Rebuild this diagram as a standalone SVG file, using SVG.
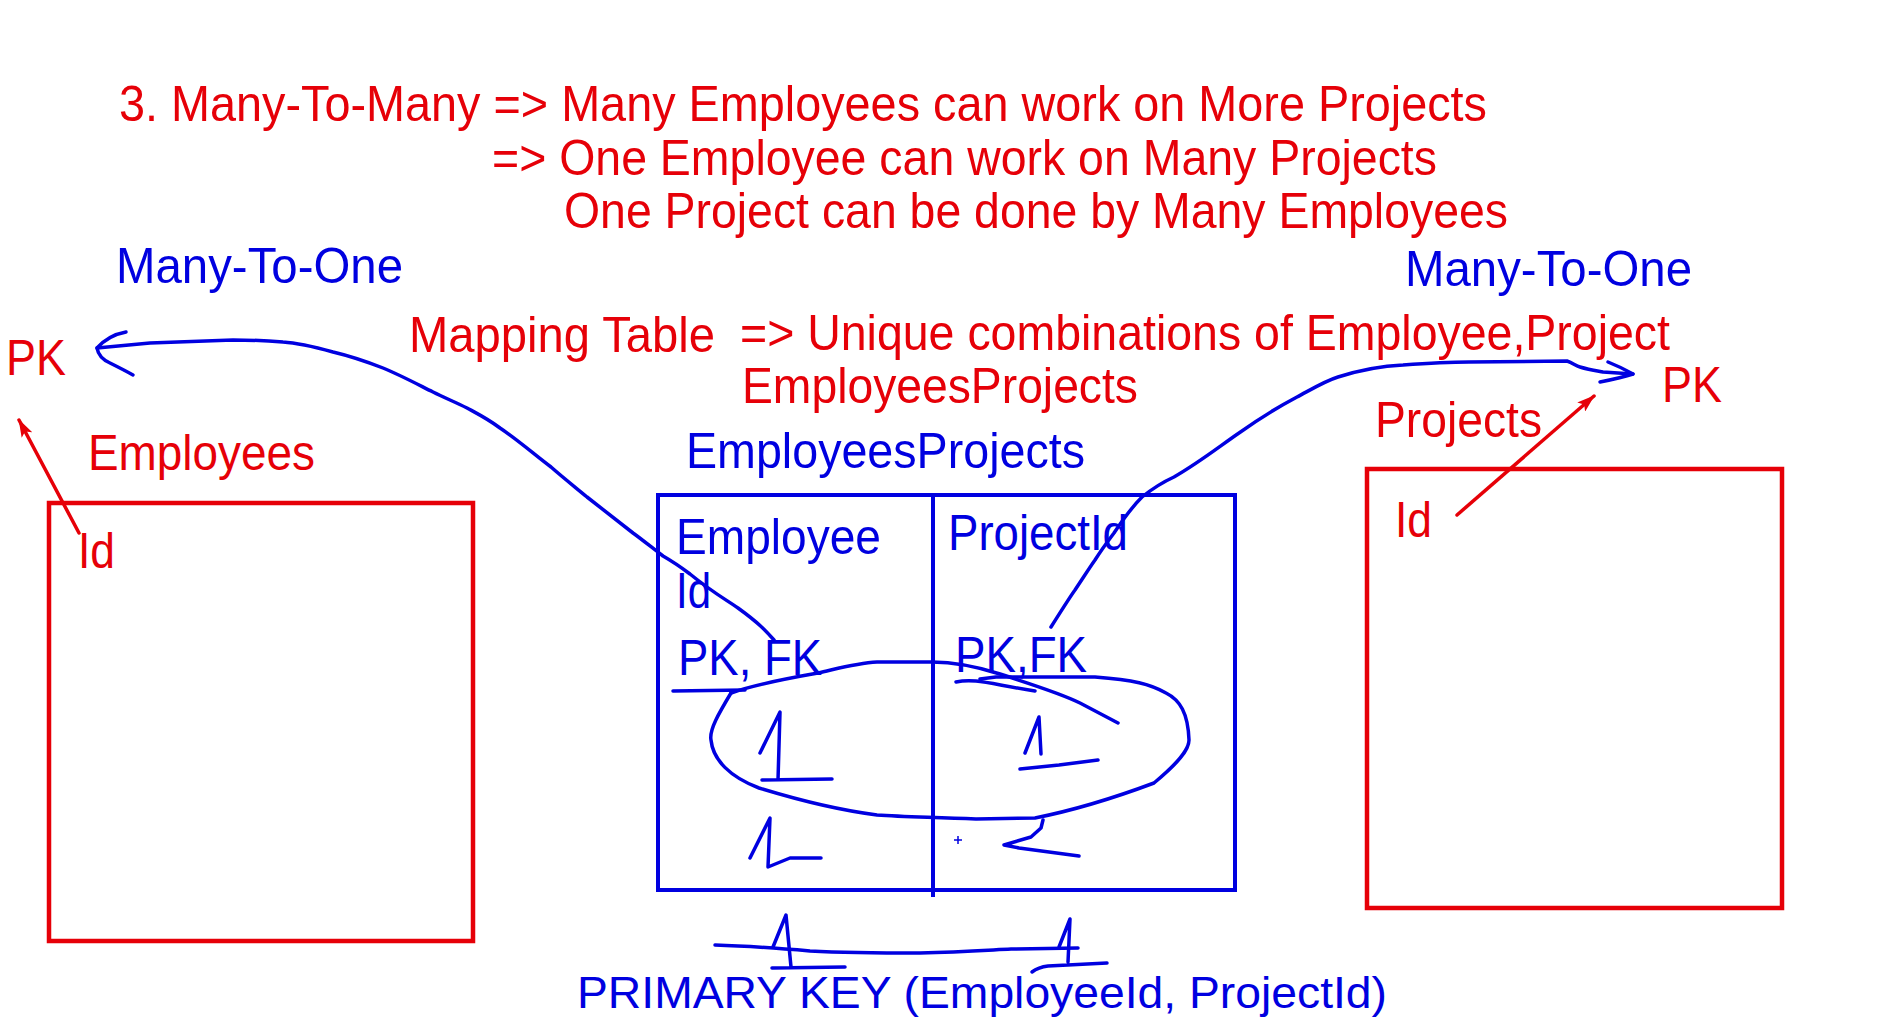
<svg xmlns="http://www.w3.org/2000/svg" width="1885" height="1017" viewBox="0 0 1885 1017">
<style>
text{font-family:"Liberation Sans",Arial,sans-serif;font-size:50px}
.r{fill:#e60008}
.b{fill:#0000e0}
.box-r{fill:none;stroke:#e60008;stroke-width:4.5}
.box-b{fill:none;stroke:#0000e0;stroke-width:4}
.ink{fill:none;stroke:#0000e0;stroke-width:3.5;stroke-linecap:round;stroke-linejoin:round}
.redline{fill:none;stroke:#e60008;stroke-width:3.5;stroke-linecap:round}
</style>
<defs>
<marker id="ah" viewBox="0 0 18 12" refX="17" refY="6" markerUnits="userSpaceOnUse" markerWidth="18" markerHeight="12" orient="auto">
<path d="M0,0 L18,6 L0,12 L4,6 z" fill="#e60008"/>
</marker>
</defs>
<rect width="1885" height="1017" fill="#ffffff"/>

<g id="heading">
<text class="r" x="119" y="121" textLength="1368" lengthAdjust="spacingAndGlyphs">3. Many-To-Many =&gt; Many Employees can work on More Projects</text>
<text class="r" x="492" y="175" textLength="945" lengthAdjust="spacingAndGlyphs">=&gt; One Employee can work on Many Projects</text>
<text class="r" x="564" y="228" textLength="944" lengthAdjust="spacingAndGlyphs">One Project can be done by Many Employees</text>
</g>

<g id="label-many-to-one-left"><text class="b" x="116" y="283" textLength="287" lengthAdjust="spacingAndGlyphs">Many-To-One</text></g>
<g id="label-many-to-one-right"><text class="b" x="1405" y="286" textLength="287" lengthAdjust="spacingAndGlyphs">Many-To-One</text></g>

<g id="mapping-note">
<text class="r" x="409" y="352" textLength="306" lengthAdjust="spacingAndGlyphs">Mapping Table</text>
<text class="r" x="740" y="350" textLength="930" lengthAdjust="spacingAndGlyphs">=&gt; Unique combinations of Employee,Project</text>
<text class="r" x="742" y="403" textLength="396" lengthAdjust="spacingAndGlyphs">EmployeesProjects</text>
</g>

<g id="pk-left"><text class="r" x="6" y="375" textLength="60" lengthAdjust="spacingAndGlyphs">PK</text></g>
<g id="pk-right"><text class="r" x="1662" y="402" textLength="60" lengthAdjust="spacingAndGlyphs">PK</text></g>

<g id="employees">
<text class="r" x="88" y="470" textLength="227" lengthAdjust="spacingAndGlyphs">Employees</text>
<rect class="box-r" x="49" y="503" width="424" height="438"/>
<text class="r" x="78" y="568" textLength="37" lengthAdjust="spacingAndGlyphs">Id</text>
</g>

<g id="projects">
<text class="r" x="1375" y="437" textLength="167" lengthAdjust="spacingAndGlyphs">Projects</text>
<rect class="box-r" x="1367" y="469" width="415" height="439"/>
<text class="r" x="1395" y="537" textLength="37" lengthAdjust="spacingAndGlyphs">Id</text>
</g>

<g id="employees-projects">
<text class="b" x="686" y="468" textLength="399" lengthAdjust="spacingAndGlyphs">EmployeesProjects</text>
<rect class="box-b" x="658" y="495" width="577" height="395"/>
<line class="box-b" x1="933" y1="495" x2="933" y2="897"/>
<text class="b" x="676" y="554" textLength="205" lengthAdjust="spacingAndGlyphs">Employee</text>
<text class="b" x="676" y="608" textLength="35" lengthAdjust="spacingAndGlyphs">Id</text>
<text class="b" x="678" y="675" textLength="144" lengthAdjust="spacingAndGlyphs">PK, FK</text>
<text class="b" x="948" y="550" textLength="180" lengthAdjust="spacingAndGlyphs">ProjectId</text>
<text class="b" x="955" y="672" textLength="132" lengthAdjust="spacingAndGlyphs">PK,FK</text>
<path class="ink" d="M673,691 L745,690"/>
<path class="ink" d="M956,682 C975,678 990,684 1035,691"/>
<path class="ink" d="M731,693 C719,713 709,730 711,740 C713,760 730,777 759,788 C798,800 838,810 877,815 C905,817 932,817 976,819 L1035,818 C1075,810 1114,798 1154,783 C1178,763 1189,750 1189,740 C1188,713 1180,700 1166,693 C1150,684 1134,680 1095,677 L996,677 L980,679"/>
<path class="ink" d="M731,693 C750,686 778,680 818,673 C840,668 857,663 877,662 L932,662 C950,662 975,666 1000,674 C1030,684 1060,693 1080,703 L1118,723"/>
<path class="ink" d="M760,753 L780,712 L778,780 M762,780 L832,779"/>
<path class="ink" d="M1025,753 L1039,717 L1041,754 M1020,769 L1059,765 L1098,760"/>
<path class="ink" d="M750,858 L770,818 L768,867 L790,858 L821,858"/>
<path class="ink" d="M1043,820 L1041,828 L1031,837 L1004,845 L1019,848 L1079,856"/>
<path d="M954,840 h8 M958,836 v8" stroke="#0000e0" stroke-width="1.5" fill="none"/>
</g>

<g id="primary-key">
<path class="ink" d="M715,945 C750,946 775,948 810,951 C850,953 886,953 920,953 C960,952 990,950 1011,949 L1078,948"/>
<path class="ink" d="M773,947 L786,915 L791,967 M772,968 L845,967"/>
<path class="ink" d="M1059,947 L1070,919 L1068,962 M1032,972 C1036,969 1040,967 1048,966 L1107,963"/>
<text class="b" x="577" y="1008" style="font-size:44px" textLength="810" lengthAdjust="spacingAndGlyphs">PRIMARY KEY (EmployeeId, ProjectId)</text>
</g>

<g id="connectors">
<path class="ink" d="M774,640 C766,631 760,624 738,608 C725,599 712,592 690,574 C678,565 670,560 663,556 C650,546 640,538 633,533 C615,519 600,507 587,497 C570,483 560,475 551,467 C535,455 518,440 500,428 C488,419 478,414 467,408 C455,402 445,398 433,392 C415,383 400,375 383,368 C365,361 350,356 333,352 C315,347 300,343 283,342 C260,340 245,340 233,340 C200,341 175,342 150,343 L97,348"/>
<path class="ink" d="M126,332 C115,334 106,338 97,348 C98,354 101,359 110,363 C118,367 126,371 133,375"/>
<path class="ink" d="M1051,627 C1063,608 1072,594 1075,590 C1085,575 1090,567 1095,560 C1102,549 1108,541 1114,533 C1124,518 1133,506 1142,497 C1152,489 1163,482 1174,477 C1200,462 1220,446 1239,433 C1260,418 1280,406 1297,397 C1312,389 1325,381 1338,377 C1360,370 1380,366 1403,365 C1430,363 1450,362 1469,362 L1567,361 C1573,363 1576,366 1580,367 C1590,370 1598,371 1603,372 L1633,374"/>
<path class="ink" d="M1608,362 C1618,366 1626,370 1633,374 C1624,377 1610,380 1600,382"/>
<line class="redline" x1="79" y1="533" x2="19" y2="420" marker-end="url(#ah)"/>
<line class="redline" x1="1457" y1="515" x2="1594" y2="396" marker-end="url(#ah)"/>
</g>
</svg>
